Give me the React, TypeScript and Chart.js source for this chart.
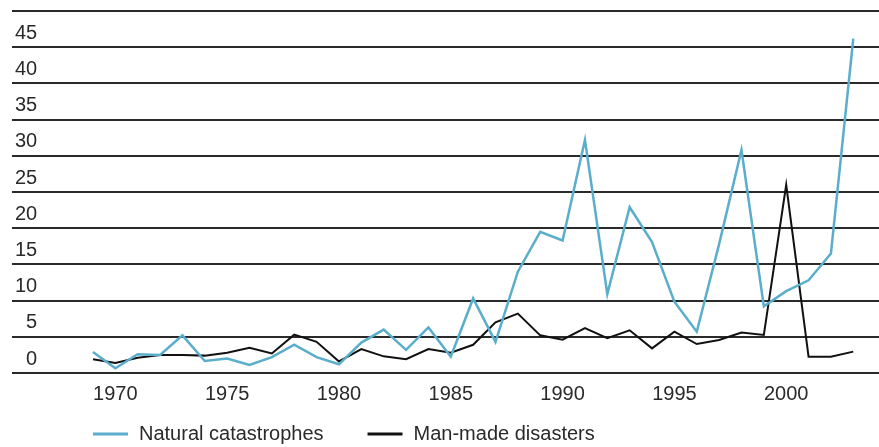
import React, { useEffect, useRef } from "react";
import { Chart, registerables } from "chart.js";

Chart.register(...registerables);

const years = [
  1969, 1970, 1971, 1972, 1973, 1974, 1975, 1976, 1977, 1978,
  1979, 1980, 1981, 1982, 1983, 1984, 1985, 1986, 1987, 1988,
  1989, 1990, 1991, 1992, 1993, 1994, 1995, 1996, 1997, 1998,
  1999, 2000, 2001, 2002, 2003,
];

const naturalCatastrophes = [
  2.9, 0.65, 2.6, 2.5, 5.2, 1.65, 2.0, 1.1, 2.2, 3.9,
  2.2, 1.2, 4.2, 6.0, 3.2, 6.3, 2.25, 10.3, 4.3, 14.0,
  19.5, 18.3, 32.2, 10.9, 22.9, 18.1, 9.85, 5.7, 17.8, 30.8,
  9.2, 11.3, 12.8, 16.5, 46.2,
];

const manMadeDisasters = [
  1.9, 1.4, 2.1, 2.5, 2.5, 2.4, 2.8, 3.5, 2.7, 5.3,
  4.3, 1.6, 3.3, 2.3, 1.9, 3.3, 2.8, 3.9, 7.0, 8.2,
  5.2, 4.6, 6.2, 4.8, 5.9, 3.4, 5.7, 4.0, 4.55, 5.6,
  5.25, 26.0, 2.25, 2.25, 2.95,
];

const seriesLabels = ["Natural catastrophes", "Man-made disasters"];
const seriesColors = ["#5aaecb", "#111111"];
const xTickYears = [1970, 1975, 1980, 1985, 1990, 1995, 2000];
const yTickValues = [0, 5, 10, 15, 20, 25, 30, 35, 40, 45, 50];
const yHiddenLabels = [50];

const FONT_FAMILY = '"Liberation Sans", Arial, sans-serif';
const TEXT_COLOR = "#2a2a2a";

const legendPlugin = {
  id: "bottomLegend",
  afterDraw(chart: any) {
    const ctx = chart.ctx;
    ctx.save();
    ctx.font = `20px ${FONT_FAMILY}`;
    ctx.textBaseline = "middle";
    ctx.textAlign = "left";
    let x = 93;
    const y = 434;
    chart.data.datasets.forEach((ds: any) => {
      ctx.strokeStyle = ds.borderColor;
      ctx.lineWidth = 3;
      ctx.beginPath();
      ctx.moveTo(x, y);
      ctx.lineTo(x + 35, y);
      ctx.stroke();
      x += 35 + 11;
      ctx.fillStyle = TEXT_COLOR;
      ctx.fillText(ds.label, x, y);
      x += ctx.measureText(ds.label).width + 44;
    });
    ctx.restore();
  },
};

export default function App() {
  const canvasRef = useRef<HTMLCanvasElement | null>(null);

  useEffect(() => {
    if (!canvasRef.current) return;
    const toPoints = (vals: number[]) => years.map((yr, i) => ({ x: yr, y: vals[i] }));
    const chart = new Chart(canvasRef.current, {
      type: "line",
      data: {
        datasets: [
          {
            label: seriesLabels[0],
            data: toPoints(naturalCatastrophes),
            borderColor: seriesColors[0],
            backgroundColor: seriesColors[0],
            borderWidth: 2.5,
            pointRadius: 0,
            tension: 0,
            borderJoinStyle: "miter",
          },
          {
            label: seriesLabels[1],
            data: toPoints(manMadeDisasters),
            borderColor: seriesColors[1],
            backgroundColor: seriesColors[1],
            borderWidth: 2,
            pointRadius: 0,
            tension: 0,
            borderJoinStyle: "miter",
          },
        ],
      },
      options: {
        responsive: false,
        animation: false,
        events: [],
        layout: { padding: { left: 12, right: 0, top: 11, bottom: 0 } },
        plugins: {
          legend: { display: false },
          tooltip: { enabled: false },
        },
        scales: {
          x: {
            type: "linear",
            min: 1965.378,
            max: 2004.15,
            afterBuildTicks: (axis: any) => {
              axis.ticks = xTickYears.map((v) => ({ value: v }));
            },
            afterFit: (scale: any) => {
              scale.height = 74;
              scale.paddingLeft = 0;
              scale.paddingRight = 0;
            },
            grid: { display: false, drawTicks: false },
            border: { display: false },
            ticks: {
              padding: 9,
              color: TEXT_COLOR,
              font: { family: FONT_FAMILY, size: 20 },
              maxRotation: 0,
              autoSkip: false,
              callback: (v: any) => String(v),
            },
          },
          y: {
            min: 0,
            max: 50,
            afterBuildTicks: (axis: any) => {
              axis.ticks = yTickValues.map((v) => ({ value: v }));
            },
            afterFit: (scale: any) => {
              scale.width = 0;
              scale.paddingTop = 0;
              scale.paddingBottom = 0;
            },
            grid: { color: "#2a2a2a", lineWidth: 2, drawTicks: false },
            border: { display: false },
            ticks: {
              mirror: true,
              crossAlign: "far",
              padding: 3,
              labelOffset: -14,
              color: TEXT_COLOR,
              font: { family: FONT_FAMILY, size: 20 },
              callback: (v: any) => (yHiddenLabels.includes(v) ? "" : String(v)),
            },
          },
        },
      },
      plugins: [legendPlugin],
    });
    return () => chart.destroy();
  }, []);

  return (
    <div style={{ position: "absolute", left: 0, top: 0, width: 879, height: 447, background: "#fff" }}>
      <canvas ref={canvasRef} width={879} height={447} style={{ display: "block" }} />
    </div>
  );
}
